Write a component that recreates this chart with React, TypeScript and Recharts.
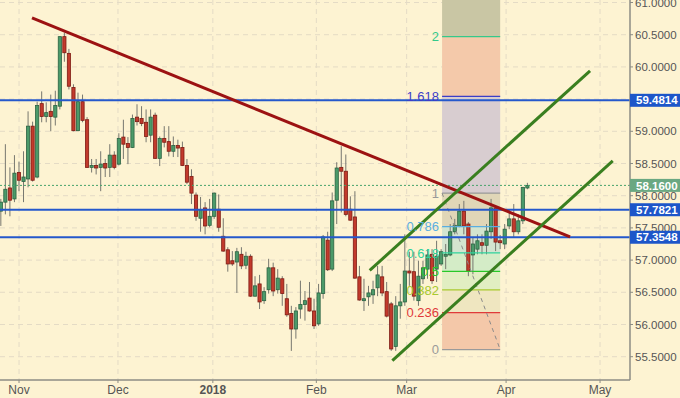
import React from 'react';
import {
  ComposedChart,
  Bar,
  Line,
  Scatter,
  XAxis,
  YAxis,
  CartesianGrid,
  ReferenceLine,
  ReferenceArea,
} from 'recharts';

// daily candles [open, high, low, close], index 0 = 26 Oct 2017
const candles: [number, number, number, number][] = [
  [57.76, 57.95, 57.53, 57.9],
  [57.9, 58.8, 57.71, 58.1],
  [58.12, 58.44, 57.68, 57.93],
  [57.95, 58.63, 57.9, 58.35],
  [58.36, 58.53, 58.07, 58.24],
  [58.22, 58.69, 57.9, 58.29],
  [58.26, 59.31, 58.13, 59.08],
  [59.08, 59.15, 58.22, 58.24],
  [58.29, 59.46, 58.27, 59.4],
  [59.43, 59.62, 59.14, 59.23],
  [59.23, 59.45, 59.14, 59.29],
  [59.31, 59.57, 59.0, 59.23],
  [59.22, 59.63, 59.09, 59.4],
  [59.39, 60.47, 59.34, 60.47],
  [60.47, 60.53, 60.08, 60.22],
  [60.21, 60.28, 59.65, 59.7],
  [59.68, 59.73, 59.0, 59.01],
  [59.01, 59.6, 59.0, 59.46],
  [59.46, 59.57, 59.14, 59.17],
  [59.18, 59.22, 58.43, 58.44],
  [58.44, 58.57, 58.36, 58.47],
  [58.47, 58.57, 58.33, 58.43],
  [58.44, 58.69, 58.07, 58.49],
  [58.5, 58.57, 58.29, 58.43],
  [58.44, 58.8, 58.29, 58.63],
  [58.63, 58.69, 58.41, 58.44],
  [58.49, 58.97, 58.47, 58.89],
  [58.91, 59.18, 58.57, 58.8],
  [58.81, 58.91, 58.49, 58.75],
  [58.75, 59.26, 58.74, 59.2],
  [59.22, 59.42, 59.09, 59.15],
  [59.2, 59.39, 59.08, 59.12],
  [59.14, 59.34, 58.83, 58.92],
  [58.94, 59.34, 58.83, 59.22],
  [59.25, 59.29, 58.57, 58.58],
  [58.58, 58.92, 58.46, 58.89],
  [58.89, 59.08, 58.75, 58.83],
  [58.84, 59.08, 58.61, 58.69],
  [58.69, 58.92, 58.6, 58.78],
  [58.78, 58.87, 58.6, 58.74],
  [58.75, 58.84, 58.46, 58.47],
  [58.47, 58.57, 58.18, 58.21],
  [58.3, 58.41, 57.87, 58.04],
  [58.01, 58.05, 57.61, 57.68],
  [57.65, 57.98, 57.44, 57.78],
  [57.81, 57.9, 57.4, 57.53],
  [57.54, 57.95, 57.51, 57.68],
  [57.68, 58.05, 57.64, 58.04],
  [57.79, 58.02, 57.44, 57.51],
  [57.37, 57.65, 57.13, 57.14],
  [57.16, 57.2, 56.82, 56.94],
  [56.99, 57.14, 56.91, 56.94],
  [56.97, 57.19, 56.49, 57.13],
  [57.09, 57.2, 56.86, 56.91],
  [56.92, 57.13, 56.86, 57.06],
  [57.06, 57.09, 56.43, 56.44],
  [56.44, 56.75, 56.43, 56.6],
  [56.63, 56.77, 56.24, 56.35],
  [56.37, 56.58, 56.32, 56.51],
  [56.54, 57.02, 56.48, 56.88],
  [56.88, 56.96, 56.44, 56.52],
  [56.54, 56.86, 56.48, 56.72],
  [56.71, 56.75, 56.29, 56.48],
  [56.4, 56.63, 56.12, 56.15],
  [56.17, 56.29, 55.59, 55.93],
  [55.93, 56.27, 55.78, 56.21],
  [56.24, 56.68, 56.09, 56.31],
  [56.31, 56.52, 56.06, 56.37],
  [56.41, 56.66, 56.2, 56.21],
  [56.21, 56.4, 55.93, 55.98],
  [56.01, 56.63, 55.98, 56.49],
  [56.48, 57.39, 56.4, 57.36],
  [57.31, 57.44, 56.83, 56.85],
  [56.86, 58.05, 56.83, 57.92],
  [57.93, 58.52, 57.56, 58.43],
  [58.44, 58.77, 57.74, 58.38],
  [58.38, 58.64, 57.68, 57.71],
  [57.79, 57.99, 57.61, 57.62],
  [57.67, 58.07, 56.71, 56.72],
  [56.74, 56.91, 56.37, 56.38],
  [56.37, 56.71, 56.21, 56.4],
  [56.43, 56.6, 56.29, 56.49],
  [56.46, 56.68, 56.32, 56.54],
  [56.57, 56.91, 56.44, 56.77],
  [56.74, 56.91, 56.44, 56.49],
  [56.51, 56.66, 56.11, 56.13],
  [56.32, 56.35, 55.59, 55.62],
  [55.66, 56.44, 55.59, 56.29],
  [56.29, 56.63, 56.09, 56.35],
  [56.35, 57.4, 56.29, 56.83],
  [56.83, 57.13, 56.6, 56.8],
  [56.82, 57.13, 56.37, 56.44],
  [56.37, 56.99, 56.29, 56.75],
  [56.71, 56.99, 56.63, 56.88],
  [56.86, 57.17, 56.71, 57.08],
  [57.09, 57.17, 56.63, 56.68],
  [56.86, 57.3, 56.66, 57.06],
  [56.94, 57.17, 56.91, 57.13],
  [57.06, 57.25, 56.86, 57.09],
  [57.08, 57.56, 57.06, 57.44],
  [57.44, 57.64, 57.4, 57.54],
  [57.53, 57.87, 57.51, 57.76],
  [57.76, 57.92, 57.4, 57.53],
  [57.56, 57.59, 56.75, 56.83],
  [57.08, 57.36, 56.78, 57.25],
  [57.17, 57.4, 57.09, 57.3],
  [57.27, 57.4, 57.09, 57.23],
  [57.23, 57.56, 57.09, 57.45],
  [57.44, 57.95, 57.33, 57.81],
  [57.81, 57.84, 57.14, 57.28],
  [57.3, 57.39, 57.17, 57.27],
  [57.25, 57.56, 57.17, 57.48],
  [57.53, 57.79, 57.48, 57.64],
  [57.64, 57.87, 57.36, 57.44],
  [57.44, 57.71, 57.4, 57.61],
  [57.61, 58.13, 57.56, 58.13],
  [58.12, 58.2, 58.1, 58.16],
];

const monthTicks = [4, 25.8, 46.7, 69.5, 89.4, 111.3, 132];
const monthLabels = ['Nov', 'Dec', '2018', 'Feb', 'Mar', 'Apr', 'May'];
const priceTicks = [55.5, 56, 56.5, 57, 57.5, 58, 58.5, 59, 59.5, 60, 60.5, 61];

const supportLevels = [59.4814, 57.7821, 57.3548];
const lastPrice = 58.16;

// trend lines as [index, price] pairs
const redTrend = [[6.86, 60.76], [125.4, 57.36]];
const channelTop = [[81.26, 56.84], [129.8, 59.94]];
const channelBottom = [[86.24, 55.44], [134.8, 58.54]];

// fibonacci block
const fibStart = 97.2;
const fibEnd = 110;
const fibLow = 55.61;
const fibHigh = 58.04;
const fibRatios = [0, 0.236, 0.382, 0.5, 0.618, 0.786, 1, 1.618, 2];
const fibLabels = ['0', '0.236', '0.382', '0.5', '0.618', '0.786', '1', '1.618', '2'];
const fibLineColors = ['#9a9a9a', '#e03a3a', '#a8c92e', '#28c828', '#2fd39c', '#5aaee0', '#999999', '#3d3dc8', '#34c98a'];
// band above each level (last one runs to the top)
const fibBandColors = ['#f4c8a9', '#efe6c0', '#e1eec2', '#d4ecc7', '#d3e4cf', '#e0d6b7', '#d8cdd0', '#f4c9aa', '#c9c6a4'];

const Y_MIN = 55.138;
const Y_MAX = 61.039;
const X_MIN = -0.19;
const X_MAX = 138.6;

const FONT = '"Liberation Sans", Arial, sans-serif';

const data = candles.map(([open, high, low, close], i) => ({
  i,
  open,
  high,
  low,
  close,
  range: [low, high],
}));

const fibPrice = (r: number) => fibLow + r * (fibHigh - fibLow);
const toPoints = (pts: number[][]) => pts.map(([i, v]) => ({ i, v }));

const fibTextPoints = fibRatios.map((r, k) => ({
  i: fibStart,
  v: fibPrice(r),
  text: fibLabels[k],
  color: fibLineColors[k],
}));

const tagColor = (v: number) => (v === lastPrice ? '#6aa882' : '#1d56c9');
const tagLevels = [lastPrice, ...supportLevels];

const Candle = (props: any) => {
  const { x, y, width, height, payload } = props;
  if (x == null || y == null) return null;
  const { open, high, low, close } = payload;
  const top = Math.min(y, y + height);
  const span = Math.abs(height);
  const py = (p: number) => top + ((high - p) / (high - low || 1)) * span;
  const cx = x + width / 2;
  const up = close >= open;
  const bt = py(Math.max(open, close));
  const bb = py(Math.min(open, close));
  return (
    <g>
      <line x1={cx} x2={cx} y1={top} y2={top + span} stroke="#77776f" strokeWidth={1} />
      <rect
        x={cx - 1.6}
        y={bt}
        width={3.2}
        height={Math.max(1.2, bb - bt)}
        fill={up ? '#4b9a69' : '#c23a2c'}
        stroke={up ? '#2b6242' : '#7e1b13'}
        strokeWidth={0.8}
      />
    </g>
  );
};

const MonthTick = (props: any) => {
  const { x, y, index } = props;
  const label = monthLabels[index];
  return (
    <text
      x={x}
      y={y}
      dy="0.71em"
      textAnchor="middle"
      fill="#555"
      fontSize={12}
      fontFamily={FONT}
      fontWeight={label === '2018' ? 'bold' : 'normal'}
    >
      {label}
    </text>
  );
};

// price axis labels; the tagged levels come last so they sit on top
const PriceTick = (props: any) => {
  const { x, y, payload } = props;
  const v = payload.value;
  if (tagLevels.includes(v)) {
    return (
      <g>
        <rect x={x - 5} y={y - 6.5} width={50} height={13} fill={tagColor(v)} />
        <text x={x + 1} y={y} dy="0.36em" fill="#ffffff" fontSize={11.5} fontWeight="bold" fontFamily={FONT}>
          {v.toFixed(4)}
        </text>
      </g>
    );
  }
  return (
    <text x={x} y={y} dy="0.36em" fill="#555" fontSize={11.5} fontFamily={FONT}>
      {v.toFixed(4)}
    </text>
  );
};

const FibText = (props: any) => {
  const { cx, cy, payload } = props;
  if (cx == null || cy == null) return null;
  return (
    <text x={cx - 3} y={cy} dy="0.36em" textAnchor="end" fill={payload.color} fontSize={13} fontFamily={FONT}>
      {payload.text}
    </text>
  );
};

const trendLine = (key: string, pts: number[][], color: string, width = 3, dash?: string) => (
  <Line
    key={key}
    data={toPoints(pts)}
    dataKey="v"
    type="linear"
    stroke={color}
    strokeWidth={width}
    strokeDasharray={dash}
    dot={false}
    activeDot={false}
    isAnimationActive={false}
  />
);

export default function App() {
  return (
    <div style={{ position: 'absolute', left: 0, top: 0, width: 680, height: 398, background: '#fdf3d2' }}>
      <ComposedChart width={680} height={398} data={data} margin={{ top: 0, right: 0, bottom: 0, left: 0 }}>
        <CartesianGrid
          stroke="#e4dbc5"
          strokeDasharray="5 4"
          horizontalValues={priceTicks}
          verticalValues={monthTicks}
        />

        {/* fibonacci bands */}
        {fibRatios.map((r, k) => (
          <ReferenceArea
            key={'band' + k}
            x1={fibStart}
            x2={fibEnd}
            y1={fibPrice(r)}
            y2={k === fibRatios.length - 1 ? Y_MAX : fibPrice(fibRatios[k + 1])}
            fill={fibBandColors[k]}
            fillOpacity={1}
            stroke="none"
            ifOverflow="hidden"
          />
        ))}
        {fibRatios.map((r, k) => (
          <ReferenceLine
            key={'fib' + k}
            segment={[
              { x: fibStart, y: fibPrice(r) },
              { x: fibEnd, y: fibPrice(r) },
            ]}
            stroke={fibLineColors[k]}
            strokeWidth={1.2}
          />
        ))}
        <ReferenceLine
          segment={[
            { x: fibStart, y: fibHigh },
            { x: fibEnd, y: fibLow },
          ]}
          stroke="#8a8a8a"
          strokeDasharray="4 4"
        />

        <Bar dataKey="range" shape={<Candle />} barSize={4} isAnimationActive={false} />

        {supportLevels.map((v) => trendLine('h' + v, [[X_MIN, v], [X_MAX, v]], '#2458cc', 2))}
        {trendLine('last', [[X_MIN, lastPrice], [X_MAX, lastPrice]], '#47a36c', 1, '2 2')}
        {trendLine('red', redTrend, '#9c1212')}
        {trendLine('up', channelTop, '#3a7f1f')}
        {trendLine('down', channelBottom, '#3a7f1f')}

        <Scatter data={fibTextPoints} dataKey="v" shape={<FibText />} isAnimationActive={false} />

        <XAxis
          dataKey="i"
          type="number"
          domain={[X_MIN, X_MAX]}
          allowDataOverflow
          ticks={monthTicks}
          tick={<MonthTick />}
          tickSize={3}
          tickMargin={2}
          height={18}
          axisLine={{ stroke: '#8c8c84', strokeWidth: 1.5 }}
          tickLine={{ stroke: '#8c8c84' }}
        />
        <YAxis
          orientation="right"
          domain={[Y_MIN, Y_MAX]}
          allowDataOverflow
          ticks={[...priceTicks, ...tagLevels]}
          interval={0}
          tick={<PriceTick />}
          width={50}
          tickSize={3}
          tickMargin={2}
          axisLine={{ stroke: '#8c8c84', strokeWidth: 1.5 }}
          tickLine={{ stroke: '#8c8c84' }}
        />
      </ComposedChart>
    </div>
  );
}
